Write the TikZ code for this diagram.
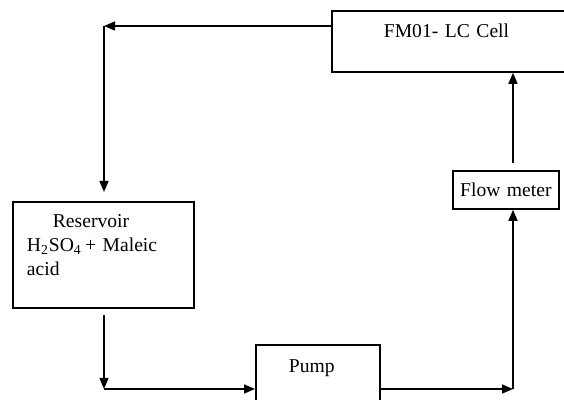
\documentclass[tikz,border=0pt]{standalone}
\usepackage{fontspec}
\setmainfont{Liberation Serif}
\usepackage{tikz}
\usetikzlibrary{arrows.meta,positioning}

\begin{document}
\begin{tikzpicture}[
  x=0.5pt, y=-0.5pt,
  box/.style={draw, line width=0.9pt, inner ysep=0pt, anchor=north west, align=left, font=\fontsize{9.8}{12}\selectfont},
  arrow/.style={-{Triangle[length=5.5pt, width=4.5pt]}, line width=0.75pt}
]
\useasboundingbox (0,0) rectangle (564,400);
\node[box, inner xsep=26pt, text width=82.5pt, text height=13.5pt, text depth=17pt] (cell) at (331,10) {FM01- LC Cell};
\node[box, inner xsep=7pt, text width=76.5pt, text height=13pt, text depth=40pt] (reservoir) at (12,201)
  {\hspace*{13pt}Reservoir\\H\textsubscript{2}SO\textsubscript{4}\,+ Maleic\\acid};
\node[box, inner xsep=16.5pt, text width=29pt, text height=14pt, text depth=29pt] (pump) at (255,344) {Pump};
\node[box, align=center, inner xsep=2pt, text width=49pt, text height=13pt, text depth=6pt] (meter) at (452,170) {Flow meter};
\coordinate (c1) at (104,26);
\coordinate (c2) at (104,389);
\coordinate (c3) at (513,389);
\draw[arrow] (c1 -| cell.west) -- (c1);
\draw[arrow, shorten >=4.5pt] (c1) -- (c1 |- reservoir.north);
\draw[arrow, shorten <=3pt] (c2 |- reservoir.south) -- (c2);
\draw[arrow] (c2) -- (c2 -| pump.west);
\draw[arrow] (c2 -| pump.east) -- (c3);
\draw[arrow] (c3) -- (c3 |- meter.south);
\draw[arrow, shorten <=3.5pt] (c3 |- meter.north) -- (c3 |- cell.south);
\end{tikzpicture}
\end{document}
